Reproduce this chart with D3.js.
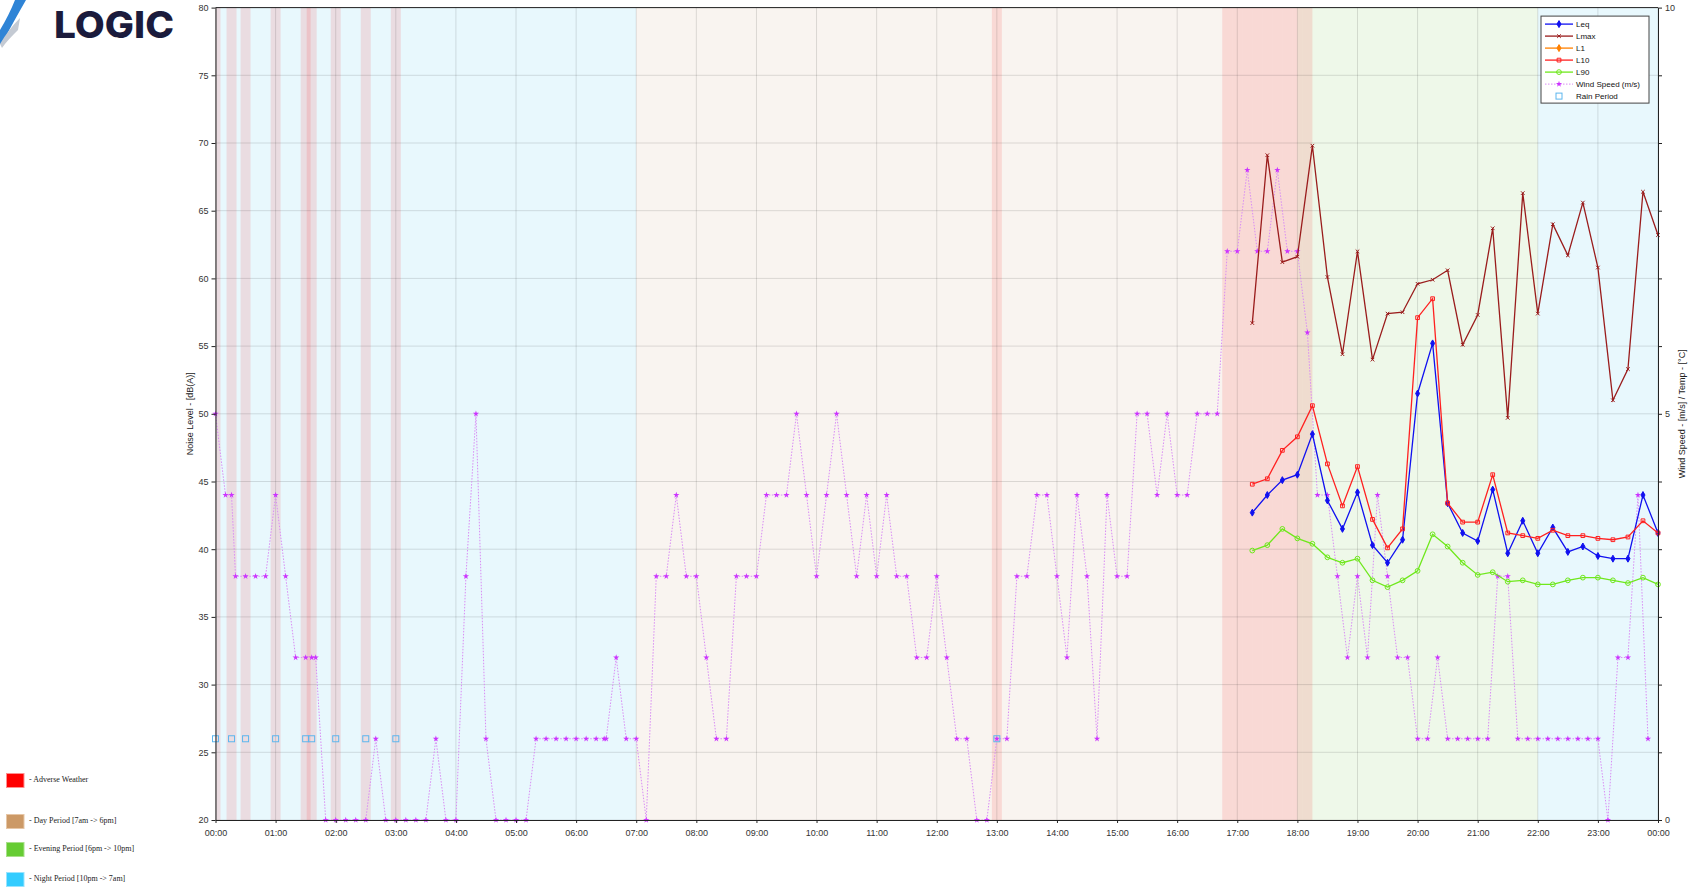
<!DOCTYPE html>
<html>
<head>
<meta charset="utf-8">
<script src="https://cdn.jsdelivr.net/npm/d3@7"></script>
<style>
  body { margin: 0; background: #fff; }
  svg { display: block; font-family: "Liberation Sans", Arial, sans-serif; }
</style>
</head>
<body>
<svg id="chart" width="1691" height="890"></svg>
<script>
// 15 minute noise results (dB(A))
const noiseTimes = ["17:15","17:30","17:45","18:00","18:15","18:30","18:45","19:00","19:15","19:30","19:45","20:00","20:15","20:30",
  "20:45","21:00","21:15","21:30","21:45","22:00","22:15","22:30","22:45","23:00","23:15","23:30","23:45","24:00"];
const leq  = [42.7,44.0,45.1,45.5,48.5,43.6,41.5,44.2,40.3,39.0,40.7,51.5,55.2,43.4,41.2,40.6,44.4,39.7,42.1,39.7,41.6,39.8,40.2,39.5,39.3,39.3,44.0,41.2];
const lmax = [56.7,69.1,61.2,61.6,69.8,60.1,54.4,62.0,54.0,57.4,57.5,59.6,59.9,60.6,55.1,57.3,63.7,49.7,66.3,57.4,64.0,61.7,65.6,60.8,51.0,53.3,66.4,63.2];
const l1   = [];
const l10  = [44.8,45.2,47.3,48.3,50.6,46.3,43.2,46.1,42.2,40.1,41.5,57.1,58.5,43.4,42.0,42.0,45.5,41.2,41.0,40.8,41.4,41.0,41.0,40.8,40.7,40.9,42.1,41.2];
const l90  = [39.9,40.3,41.5,40.8,40.4,39.4,39.0,39.3,37.7,37.2,37.7,38.4,41.1,40.2,39.0,38.1,38.3,37.6,37.7,37.4,37.4,37.7,37.9,37.9,37.7,37.5,37.9,37.4];

// weather station (m/s)
const windTimes = ["00:00","00:10","00:16","00:20","00:30","00:40","00:50","01:00","01:10","01:20","01:30","01:36","01:40","01:50",
  "02:00","02:10","02:20","02:30","02:40","02:50","03:00","03:10","03:20","03:30","03:40","03:50","04:00","04:10","04:20","04:30",
  "04:40","04:50","05:00","05:10","05:20","05:30","05:40","05:50","06:00","06:10","06:20","06:28","06:30","06:40","06:50","07:00",
  "07:10","07:20","07:30","07:40","07:50","08:00","08:10","08:20","08:30","08:40","08:50","09:00","09:10","09:20","09:30","09:40",
  "09:50","10:00","10:10","10:20","10:30","10:40","10:50","11:00","11:10","11:20","11:30","11:40","11:50","12:00","12:10","12:20",
  "12:30","12:40","12:50","13:00","13:10","13:20","13:30","13:40","13:50","14:00","14:10","14:20","14:30","14:40","14:50","15:00",
  "15:10","15:20","15:30","15:40","15:50","16:00","16:10","16:20","16:30","16:40","16:50","17:00","17:10","17:20","17:30","17:40",
  "17:50","18:00","18:10","18:20","18:30","18:40","18:50","19:00","19:10","19:20","19:30","19:40","19:50","20:00","20:10","20:20",
  "20:30","20:40","20:50","21:00","21:10","21:20","21:30","21:40","21:50","22:00","22:10","22:20","22:30","22:40","22:50","23:00",
  "23:10","23:20","23:30","23:40","23:50"];
const windSpeed = [5,4,4,3,3,3,3,4,3,2,2,2,2,0,
  0,0,0,0,1,0,0,0,0,0,1,0,0,3,5,1,
  0,0,0,0,1,1,1,1,1,1,1,1,1,2,1,1,
  0,3,3,4,3,3,2,1,1,3,3,3,4,4,4,5,
  4,3,4,5,4,3,4,3,4,3,3,2,2,3,2,1,
  1,0,0,1,1,3,3,4,4,3,2,4,3,1,4,3,
  3,5,5,4,5,4,4,5,5,5,7,7,8,7,7,8,
  7,7,6,4,4,3,2,3,2,4,3,2,2,1,1,2,
  1,1,1,1,1,3,3,1,1,1,1,1,1,1,1,1,
  0,2,2,4,1];
const rainTimes = ["00:00","00:16","00:30","01:00","01:30","01:36","02:00","02:30","03:00","13:00"];
const windLimit = 5;

const periodNames = ["Night","Day","Evening","Night"];
const periodStart = ["00:00","07:00","18:00","22:00"];
const periodEnd   = ["07:00","18:00","22:00","24:00"];

const yTicks = d3.range(20, 81, 5);
const xTicks = d3.range(0, 1441, 60);

const legendKeys = ["Adverse Weather","Day Period [7am -> 6pm]","Evening Period [6pm -> 10pm]","Night Period [10pm -> 7am]"];

const toMin = t => { const [h, m] = t.split(":").map(Number); return h * 60 + m; };
const fmtMin = m => { const h = Math.floor(m / 60) % 24; return String(h).padStart(2, "0") + ":" + String(m % 60).padStart(2, "0"); };

const svg = d3.select("#chart");
const margin = {top: 7.6, right: 33, bottom: 70, left: 215.5};
const width = 1691 - margin.left - margin.right;
const height = 890 - margin.top - margin.bottom;
const g = svg.append("g").attr("transform", `translate(${margin.left},${margin.top})`);

const x = d3.scaleLinear().domain([0, 1440]).range([0, width]);
const y = d3.scaleLinear().domain([20, 80]).range([height, 0]);
const yR = d3.scaleLinear().domain([0, 10]).range([height, 0]);

const periodColor = {Night: "#e8f8fd", Day: "#f9f4f0", Evening: "#eef8e9"};

// period backgrounds
g.selectAll("rect.period")
  .data(periodNames.map((n, i) => ({n, s: toMin(periodStart[i]), e: toMin(periodEnd[i])})))
  .join("rect")
  .attr("class", "period")
  .attr("x", d => x(d.s))
  .attr("width", d => x(d.e) - x(d.s))
  .attr("y", 0)
  .attr("height", height)
  .attr("fill", d => periodColor[d.n]);

// adverse weather: rain or high wind, +/- 5 min around each sample
const adverse = rainTimes.map(toMin)
  .concat(windTimes.filter((t, i) => windSpeed[i] > windLimit).map(toMin));
g.selectAll("rect.adverse")
  .data(adverse)
  .join("rect")
  .attr("class", "adverse")
  .attr("x", d => x(Math.max(0, d - 5)))
  .attr("width", d => x(Math.min(1440, d + 5)) - x(Math.max(0, d - 5)))
  .attr("y", 0)
  .attr("height", height)
  .attr("fill", "#ff0000")
  .attr("fill-opacity", 0.11);

// grid
g.selectAll("line.hgrid")
  .data(yTicks)
  .join("line")
  .attr("x1", 0).attr("x2", width)
  .attr("y1", d => y(d)).attr("y2", d => y(d))
  .attr("stroke", "#000").attr("stroke-opacity", 0.12);
g.selectAll("line.vgrid")
  .data(xTicks)
  .join("line")
  .attr("x1", d => x(d)).attr("x2", d => x(d))
  .attr("y1", 0).attr("y2", height)
  .attr("stroke", "#000").attr("stroke-opacity", 0.12);

// wind speed
const windData = windTimes.map((t, i) => ({t: toMin(t), v: windSpeed[i]}));
g.append("path")
  .datum(windData)
  .attr("fill", "none")
  .attr("stroke", "#d98cf5")
  .attr("stroke-width", 1)
  .attr("stroke-dasharray", "1.5,1.5")
  .attr("d", d3.line().x(d => x(d.t)).y(d => yR(d.v)));
g.selectAll("path.wind")
  .data(windData)
  .join("path")
  .attr("transform", d => `translate(${x(d.t)},${yR(d.v)})`)
  .attr("d", d3.symbol(d3.symbolStar, 12))
  .attr("fill", "#cc33ff");

// rain periods
g.selectAll("rect.rain")
  .data(rainTimes.map(toMin))
  .join("rect")
  .attr("x", d => x(d) - 3)
  .attr("y", yR(1) - 3)
  .attr("width", 6).attr("height", 6)
  .attr("fill", "none")
  .attr("stroke", "#5cb6ee")
  .attr("stroke-width", 1);

// noise series
const series = [
  {name: "Leq", values: leq, color: "#1010f0", sym: d3.symbolDiamond, size: 14, filled: true},
  {name: "Lmax", values: lmax, color: "#9a1c1c", sym: d3.symbolTimes, size: 10, filled: false},
  {name: "L1", values: l1, color: "#ff8000", sym: d3.symbolDiamond, size: 14, filled: true},
  {name: "L10", values: l10, color: "#ff2020", sym: d3.symbolSquare, size: 14, filled: false},
  {name: "L90", values: l90, color: "#6fe81c", sym: d3.symbolCircle, size: 18, filled: false}
];
const line = d3.line().x(d => x(d.t)).y(d => y(d.v));
series.forEach(s => {
  const pts = s.values.map((v, i) => ({t: toMin(noiseTimes[i]), v}));
  g.append("path")
    .datum(pts)
    .attr("fill", "none")
    .attr("stroke", s.color)
    .attr("stroke-width", 1.3)
    .attr("d", line);
  g.selectAll(null)
    .data(pts)
    .join("path")
    .attr("transform", d => `translate(${x(d.t)},${y(d.v)})`)
    .attr("d", d3.symbol(s.sym, s.size))
    .attr("fill", s.filled ? s.color : "none")
    .attr("stroke", s.color)
    .attr("stroke-width", 1);
});

// axes
const axisStyle = sel => {
  sel.selectAll("text").attr("fill", "#333").style("font-size", "9px");
  sel.selectAll("line").attr("stroke", "#222");
  sel.select(".domain").attr("stroke", "#222");
};
g.append("g")
  .call(d3.axisLeft(y).tickValues(yTicks).tickSize(4).tickSizeOuter(0))
  .call(axisStyle);
g.append("g")
  .attr("transform", `translate(${width},0)`)
  .call(d3.axisRight(yR).tickValues(yTicks.map(v => (v - 20) / 6)).tickSize(4).tickSizeOuter(0)
    .tickFormat(v => Math.abs(v % 5) < 1e-9 ? d3.format("d")(v) : ""))
  .call(axisStyle);
g.append("g")
  .attr("transform", `translate(0,${height})`)
  .call(d3.axisBottom(x).tickValues(xTicks).tickSize(3).tickSizeOuter(0).tickFormat(fmtMin))
  .call(axisStyle)
  .call(a => a.selectAll("text").attr("dy", "1.1em"));
g.append("line")
  .attr("x1", 0).attr("x2", width).attr("y1", 0).attr("y2", 0)
  .attr("stroke", "#222");

// axis titles
g.append("text")
  .attr("transform", `translate(${-23},${height / 2}) rotate(-90)`)
  .attr("text-anchor", "middle")
  .style("font-family", "'Liberation Sans Narrow', 'Liberation Sans', sans-serif")
  .style("font-size", "9px")
  .attr("fill", "#222")
  .text("Noise Level - [dB(A)]");
g.append("text")
  .attr("transform", `translate(${width + 27},${height / 2}) rotate(-90)`)
  .attr("text-anchor", "middle")
  .style("font-family", "'Liberation Sans Narrow', 'Liberation Sans', sans-serif")
  .style("font-size", "9px")
  .attr("fill", "#222")
  .text("Wind Speed - [m/s] / Temp - [°C]");

// legend (top right)
const lg = g.append("g").attr("transform", `translate(${width - 117},${8.5})`);
lg.append("rect")
  .attr("width", 108).attr("height", 87)
  .attr("fill", "#fff").attr("stroke", "#444").attr("stroke-width", 1);
const legendItems = series.map(s => s.name).concat(["Wind Speed (m/s)", "Rain Period"]);
legendItems.forEach((name, i) => {
  const row = lg.append("g").attr("transform", `translate(4,${8 + i * 12})`);
  const s = series.find(d => d.name === name);
  if (s) {
    row.append("line").attr("x1", 0).attr("x2", 28).attr("stroke", s.color).attr("stroke-width", 1.3);
    row.append("path").attr("transform", "translate(14,0)")
      .attr("d", d3.symbol(s.sym, s.size))
      .attr("fill", s.filled ? s.color : "none").attr("stroke", s.color);
  } else if (name === "Rain Period") {
    row.append("rect").attr("x", 11).attr("y", -3).attr("width", 6).attr("height", 6)
      .attr("fill", "none").attr("stroke", "#5cb6ee");
  } else {
    row.append("line").attr("x1", 0).attr("x2", 28).attr("stroke", "#d98cf5").attr("stroke-dasharray", "1.5,1.5");
    row.append("path").attr("transform", "translate(14,0)").attr("d", d3.symbol(d3.symbolStar, 12)).attr("fill", "#cc33ff");
  }
  row.append("text").attr("x", 31).attr("dy", "0.35em")
    .style("font-size", "8px").attr("fill", "#111").text(name);
});

// period legend (bottom left)
const keyColor = ["#ff0000", "#cc9966", "#66cc33", "#33ccff"];
const keyBorder = ["#ff9090", "#e6c6a6", "#a8e08a", "#99e4ff"];
const keyY = [773, 814, 842, 872];
legendKeys.forEach((k, i) => {
  svg.append("rect")
    .attr("x", 6.5).attr("y", keyY[i] + 0.5)
    .attr("width", 17.5).attr("height", 14)
    .attr("fill", keyColor[i]).attr("stroke", keyBorder[i]);
  svg.append("text")
    .attr("x", 29).attr("y", keyY[i] + 6).attr("dy", "0.35em")
    .style("font-family", "'Liberation Serif', 'DejaVu Serif', serif")
    .style("font-size", "8px").attr("fill", "#222")
    .text("- " + k);
});

// logo
svg.append("path")
  .attr("d", "M26,0 C18,14 10,28 2,44 L0,44 L0,30 C6,20 11,10 15,0 Z")
  .attr("fill", "#2f84d6");
svg.append("path")
  .attr("d", "M0,44 C6,34 12,26 20,18 L18,30 C12,36 6,42 2,48 Z")
  .attr("fill", "#c4cad3");
svg.append("text")
  .attr("x", 54).attr("y", 37.5)
  .attr("textLength", 120).attr("lengthAdjust", "spacingAndGlyphs")
  .style("font-family", "Inter, 'Liberation Sans', Arial, sans-serif")
  .style("font-weight", "800").style("font-size", "37px")
  .attr("fill", "#1b1b3c")
  .text("LOGIC");
</script>
</body>
</html>
